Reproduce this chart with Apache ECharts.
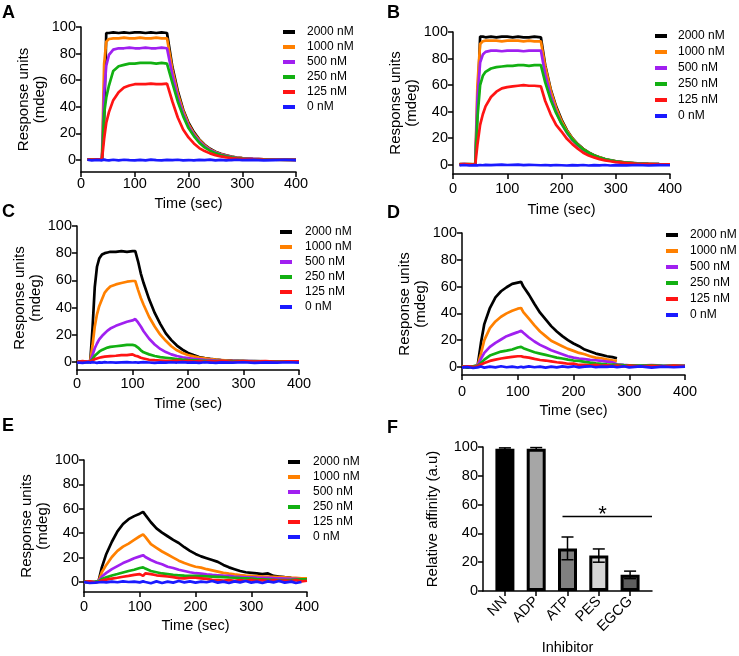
<!DOCTYPE html>
<html><head><meta charset="utf-8">
<script src="https://cdn.jsdelivr.net/npm/echarts@6/dist/echarts.min.js"></script>
<style>html,body{margin:0;padding:0;background:#fff}#c{width:739px;height:656px}</style>
</head><body><div id="c"></div>
<script>
// ---------------- DATA ----------------
const seriesNames = ['2000 nM','1000 nM','500 nM','250 nM','125 nM','0 nM'];
const seriesColors = ['#000000','#ff8000','#a020f0','#12b012','#ff1414','#1a1aff'];
const timeTicks = [0,100,200,300,400];
const responseTicks = [0,20,40,60,80,100];

// Panel A
const tA = [12,20,30,39,43,47,52,60, 70,80,90,100,110,120,130,140,150,160, 170,180,190,200,210,220,230,240,250,260,270,280,290,300, 320,340,360,380,400];
const a2000 = [0.5,0.3,0.5,0.3,30,95.5,95.5,96, 95.5,96,95.5,96,96,95.5,96,95.5,96,95.5, 70,52,38,28,21,15.5,11.5,8.5,6.3,4.7,3.5,2.6,1.9,1.5, 0.9,0.5,0.3,0.2,0.1];
const a1000 = [0.3,0.5,0.3,0.5,72,89,91,91.5, 91.5,92,91.5,91.5,92,91.5,91.5,92,91.5,91.5, 68,50,37,27,20,15,11,8,6,4.4,3.3,2.4,1.8,1.4, 0.8,0.5,0.3,0.2,0.2];
const a500 = [0.5,0.3,0.5,0.3,50,71,79,83, 84,84,84.5,84,84,84.5,84,84,84.5,84, 64,47,35,25.5,19,14,10.3,7.6,5.6,4.2,3.1,2.3,1.7,1.3, 0.8,0.5,0.3,0.2,0.1];
const a250 = [0.3,0.5,0.3,0.5,35,47,56,67, 70.5,71.5,72.5,72.5,73,73,73,72.5,73,72.5, 58,44,33,24,18,13,9.5,7,5.2,3.8,2.8,2,1.5,1.1, 0.6,0.4,0.2,0.1,0.1];
const a125 = [0.5,0.3,0.5,0.3,16,28,36,45, 51,54.5,56,57,57,57,57.5,57,57,57.5, 44,32,23,17,12.5,9,6.7,5,3.7,2.7,2,1.5,1.1,0.8, 0.5,0.3,0.2,0.1,0.1];
const a0 = [0.2,-0.3,0.1,-0.2,0.3,-0.1,-0.3,0.2, -0.2,0.2,-0.1,-0.3,0.1,-0.2,0.3,-0.1,-0.3,0.1, -0.1,0.2,-0.2,0,-0.3,0.1,-0.1,0.3,-0.2,0.1,-0.3,0,0.2,-0.1, 0.1,-0.2,0,0.2,-0.1];

// Panel B
const tB = [12,20,30,41,45,50,55,60, 70,80,90,100,110,120,130,140,150, 162, 170,180,190,200,210,220,230,240,250,260,270,280,290,300, 320,340,360,380,400];
const b2000 = [0.3,0.5,0.3,0.5,40,96.5,96.5,96, 96.5,96,96.5,96.5,96,96.5,96,96,96.5, 96, 75,57,44,34,26,20,15.5,12,9.3,7.2,5.6,4.3,3.4,2.6, 1.6,1,0.6,0.4,0.3];
const b1000 = [0.5,0.3,0.5,0.3,60,91,93,93.5, 93.5,93.5,93,93.5,93.5,93.5,93,93.5,93, 93, 74,56,43,33,25.5,19.7,15.2,11.8,9.1,7,5.5,4.2,3.3,2.5, 1.5,0.9,0.6,0.4,0.3];
const b500 = [0.3,0.5,0.3,0.5,50,77,83,85, 86,86,85.5,86,86,86,85.5,86,86, 86, 68,52,40,31,24,18.5,14.5,11,8.5,6.6,5.1,4,3.1,2.4, 1.4,0.9,0.6,0.4,0.3];
const b250 = [0.5,0.3,0.5,0.3,35,60,67,70, 72.5,73.5,74,74.5,74.5,75,75,74.5,75, 75, 62,49,39,31,24.5,19,15,11.5,9,7,5.4,4.2,3.3,2.6, 1.5,0.9,0.6,0.4,0.3];
const b125 = [0.3,0.5,0.3,0,15,30,38,44, 51,55,57.5,58.5,59,59.5,60,59.5,59.5, 59, 48,38,30,25,19.5,15.5,12,9,7,5.5,4.2,3.3,2.6,2, 1.2,0.7,0.5,0.3,0.2];
const b0 = [-0.5,-0.2,-0.6,-0.3,-0.5,-0.2,-0.4,-0.1, -0.3,-0.1,0,-0.2,-0.1,0,-0.3,-0.1,-0.2, -0.4, -0.2,-0.5,-0.2,-0.4,-0.6,-0.3,-0.5,-0.2,-0.6,-0.3,-0.5,-0.2,-0.6,-0.3, -0.5,-0.2,-0.6,-0.3,-0.4];

// Panel C
const tC = [0,10,20,24,28,32,36,40,45,50,55,60, 70,80,90,100,105,110,115,120, 130,140,150,160,170,180,190,200,210,220,230,240,250,260, 280,300,320,340,360,380,400];
const c2000 = [-0.5,0,0,1,25,55,70,76,79,80,80.5,81, 81,81.5,81,81.5,81.5,74,65,58, 46,36,28,21,16,12,9,6.5,5,3.6,2.8,2.2,1.7,1.3, 0.9,0.6,0.5,0.3,0.3,0.2,0.2];
const c1000 = [0,0.3,0,1,12,26,35,41,46,51,53.5,55.5, 57,58,59,59.5,59.5,53,47,42, 33,26,20,15.5,11.5,8.5,6.5,5,4,3.2,2.6,2,1.6,1.2, 0.8,0.5,0.4,0.3,0.2,0.2,0.1];
const c500 = [0,-0.3,0.3,0.5,5,10,13.5,16.5,19,21,23,24.5, 26.5,28,29.5,30.5,31.5,29,26,22.5, 17,12.8,9.5,7.2,5.5,4.3,3.4,2.8,2.2,1.8,1.4,1.2,1,0.8, 0.6,0.5,0.4,0.3,0.2,0.2,0.2];
const c250 = [0.3,0,-0.3,0.5,2,4.5,6,7.5,8.8,9.7,10.5,11, 11.5,12,12.5,12.5,12,10.5,8.5,7, 5.5,4.3,3.5,3,2.5,2,1.6,1.3,1.1,0.9,0.8,0.6,0.5,0.5, 0.3,0.5,0.2,0.4,0.2,0.3,0.2];
const c125 = [0,0.5,0,0.3,1,2,2.5,3,3.5,3.8,4,4.2, 4.5,5,5,5.5,4.5,4,3,2.5, 1.5,1.2,1,0.8,0.5,1,0.3,0.8,0.2,0.6,0,0.5,0.2,0.7, 0,0.6,0.1,0.5,0,0.4,0.3];
const c0 = [-0.5,-0.8,-0.3,-0.6,-0.2,-0.5,-0.8,-0.4,-0.6,-0.2,-0.5,-0.3, -0.6,-0.4,-0.2,-0.5,-0.3,-0.6,-0.4,-0.2, -0.5,-0.8,-0.4,-0.6,-0.3,-0.5,-0.2,-0.6,-0.4,-0.7,-0.3,-0.5,-0.8,-0.4, -0.6,-0.3,-0.7,-0.4,-0.6,-0.3,-0.5];

// Panel D
const tD = [0,10,20,28,34,40, 50,60,70,80,90,100, 106, 110,120,130,140,150,160,170,180,190,200,210,220,230,240,250,260,270, 278, 290,300, 320,340,360,380,400];
const d2000 = [0.5,-0.5,0.5,1,18,32, 44,52,56.5,59.5,62,63, 63.5, 60,54,47,40.5,35.5,30.5,26.5,23,20,17.5,15.5,13,11.5,10,9,8,7.3, 6.5];
const d1000 = [0,0.5,-0.3,1,10,20, 29,34,37.5,40,42,43.5, 44, 41,36,31,26.5,23,19.5,17.5,15.5,13.5,12,10.5,9.5,8,7,6.5,5.7,5, 4.5];
const d500 = [-0.3,0.5,0,1,6,10.5, 15,18,20.5,23,24.5,26, 27, 25.5,22,19,16.5,14.5,12.5,11,9.5,8,7,6.3,5.8,5.3,5,4.5,4,3.5, 2, 1.5,1.2, 1,1.3,1,0.8,1];
const d250 = [0.3,-0.3,0.5,0.8,3,5.5, 8.5,10,11.5,12.2,13,14.5, 15, 14,12.5,11,10,9,8,7,6.3,5.5,4.8,4.5,3.8,3.2,2.7,2.3,2,1.8, 1.6, 1.3,1.2, 1,1.2,0.8,1,0.8];
const d125 = [0,0.5,0,0.5,1.8,3, 4.5,5.5,6.3,7,7.5,8, 8, 7.5,7,6,5.2,4.8,4.2,3.5,3,2.4,2.5,1.5,1.6,1.2,1.5,0.8,1.2,0.6, 1, 0.5,1, 0.4,0.9,0.5,1,0.6];
const d0 = [-0.5,0,-0.8,-0.3,0.3,-0.5, 0.2,-0.3,0.5,-0.2,0.3,-0.4, 0.2, -0.3,0.4,-0.2,0.3,-0.5,0.2,-0.3,0.4,-0.1,0.5,-0.3,0.2,0.5,-0.2,0.3,0, 0.4, -0.2, 0.5,-0.3, 0.4,-0.5,0.2,-0.2,0.3];

// Panel E
const tE = [0,10,20,26,32,40, 50,60,70,80,90,100, 106, 110,120,130,140,150,160,170,180,190,200,210,220,230,240,250,260,270,280,290,300,310,320,330,340,350,360, 372,380,390,400];
const e2000 = [0.5,-0.5,0,0.5,12,23, 33,41.5,47.5,51.5,54,56, 57.5, 55,49,44,40.5,37.5,34.5,32,28.5,25.5,23,21,19.5,18,16.5,14,12,10.5,9,8,7.5,7,6.5,7,5,4.5,4, 3.5];
const e1000 = [0,0.5,-0.3,0.5,8,14, 20.5,25.5,29,31.5,34.5,37.5, 39, 37,31,28,25,22.5,20,17.5,15.5,14,12.5,11.8,10.5,9.5,8.5,7.5,6.8,6.2,5.7,5.3,5,4.8,4.5,4.4,4.2,4,3.8, 3.5,3.3,3,3];
const e500 = [-0.3,0.3,0,0.5,4.5,7.5, 10.5,13,15.5,17.5,19.5,21, 22, 20.5,18,16,14.5,12.5,11.5,10,9,8,7.2,6.8,6.2,5.8,5.5,5.2,5,4.5,4.2,3.8,3.8,3.6,3.5,3.5,3.2,3,2.8, 2.5,2.5,2.2,2.2];
const e250 = [0.3,-0.5,0.3,0.3,2.5,3.8, 5.3,6.5,7.8,9,10,11.5, 12, 11,9,8,7,6.5,5.8,5.5,5.2,5,5,4.8,4.6,4.4,4.2,4,3.7,3.5,3.2,3,2.7,2.4,2.2,2,1.8,1.6,1.6, 1.8,2,2.2,2.2];
const e125 = [0,0.5,-0.3,0,1.2,2, 2.8,3.5,4.3,5,5.8,6.5, 5, 7,6.5,5.5,5,4.5,4,3.2,3,3.5,3.5,3,2.5,1.8,1.5,1.2,1.5,1,1.5,1,1.8,1,1.5,0.8,1.5,1,1.2, 0.8,1.5,0.5,1];
const e0 = [0,-0.8,-0.5,-0.2,0,-0.3, 0.3,-0.2,0.5,0,0.3,-0.3, 0.5, 0,-1,0.5,-0.8,0.3,-0.5,0.8,-0.3,0.5,-0.5,0.3,-0.2,0.8,-0.5,0.3,-0.8,0.5,-0.3,0.8,-0.5,0.3,-0.8,0.5,-0.3,0.8, -0.5,0.3,-0.8,0];

// Panel F
const fCats = ['NN','ADP','ATP','PES','EGCG'];
const fMeans = [98.8, 98.8, 29.6, 24.6, 11.2];
const fErr = [0.6, 0.8, 7.9, 4.6, 2.6];
const fColors = ['#000000','#a6a6a6','#808080','#d6d6d6','#5e5e5e'];
const sigLine = [[1.84, 51.7],[4.7, 51.7]];
const sigStar = [3.12, 51.7];

// ---------------- LAYOUT ----------------
const FONT = 'Liberation Sans, Arial, sans-serif';
const panels = [
  {letter:'A', lx:2,   ly:4,   grid:{left:81, top:27, width:215, height:145}, yMin:-9, t:tA, v:[a2000,a1000,a500,a250,a125,a0], leg:{left:283, top:24.5, lh:15, pad:7},  lblM:4, nameGap:24},
  {letter:'B', lx:387, ly:4,   grid:{left:453,top:32, width:217, height:142}, yMin:-7, t:tB, v:[b2000,b1000,b500,b250,b125,b0], leg:{left:655, top:28,   lh:16, pad:6},  lblM:7, nameGap:28},
  {letter:'C', lx:2,   ly:203, grid:{left:77, top:226,width:222, height:144}, yMin:-6, t:tC, v:[c2000,c1000,c500,c250,c125,c0], leg:{left:280, top:224.5,lh:15, pad:8},  lblM:6, nameGap:26},
  {letter:'D', lx:387, ly:204, grid:{left:462,top:233,width:223, height:142}, yMin:-6, t:tD, v:[d2000,d1000,d500,d250,d125,d0], leg:{left:666, top:227,  lh:16, pad:7},  lblM:9, nameGap:28},
  {letter:'E', lx:2,   ly:417, grid:{left:84, top:460,width:223, height:132}, yMin:-8.2, t:tE, v:[e2000,e1000,e500,e250,e125,e0], leg:{left:288, top:454.5,lh:15, pad:8}, lblM:7, nameGap:26}
];
const fPanel = {letter:'F', lx:387, ly:419, grid:{left:483, top:447, width:169, height:145}};

const axisLineStyle = {color:'#000', width:1.5};
const txt = {color:'#000', fontFamily:FONT, fontSize:14.5};

const grids = [], xAxes = [], yAxes = [], series = [], legends = [], titles = [];
panels.forEach((p, i) => {
  grids.push(Object.assign({containLabel:false}, p.grid));
  titles.push({text:p.letter, left:p.lx, top:p.ly, padding:0, textStyle:{fontFamily:FONT, fontSize:18, fontWeight:'bold', color:'#000'}});
  xAxes.push({gridIndex:i, type:'value', min:0, max:400, interval:100,
    axisLine:{show:true, onZero:false, lineStyle:axisLineStyle},
    axisTick:{show:true, length:5, lineStyle:axisLineStyle},
    axisLabel:Object.assign({margin:p.lblM}, txt),
    splitLine:{show:false},
    name:'Time (sec)', nameLocation:'middle', nameGap:p.nameGap, nameTextStyle:txt});
  yAxes.push({gridIndex:i, type:'value', min:p.yMin, max:100,
    axisLine:{show:true, onZero:false, lineStyle:axisLineStyle},
    axisTick:{show:true, length:5, lineStyle:axisLineStyle, customValues:responseTicks},
    axisLabel:Object.assign({margin:5, customValues:responseTicks}, txt),
    splitLine:{show:false},
    name:'Response units\n(mdeg)', nameLocation:'middle', nameRotate:90, nameGap:24,
    nameTextStyle:Object.assign({}, txt, {fontSize:15, lineHeight:16})});
  seriesNames.forEach((nm, k) => {
    const vals = p.v[k];
    series.push({type:'line', name:nm, xAxisIndex:i, yAxisIndex:i, color:seriesColors[k],
      data: vals.map((y, j) => [p.t[j], y]),
      symbol:'none', showSymbol:false, smooth:false,
      lineStyle:{width:2.7, color:seriesColors[k]}, itemStyle:{color:seriesColors[k]},
      emphasis:{disabled:true}, animation:false, z:2});
  });
  legends.push({data:seriesNames, orient:'vertical', left:p.leg.left, top:p.leg.top, padding:0,
    itemWidth:12, itemHeight:4, itemGap:0, icon:'rect', selectedMode:false,
    textStyle:{color:'#000', fontFamily:FONT, fontSize:12, lineHeight:p.leg.lh, padding:[0,0,0,p.leg.pad]}});
});

// Panel F
const fi = panels.length;
grids.push(fPanel.grid);
titles.push({text:fPanel.letter, left:fPanel.lx, top:fPanel.ly, padding:0, textStyle:{fontFamily:FONT, fontSize:18, fontWeight:'bold', color:'#000'}});
const catIdx = fCats.map((c, i) => i);
xAxes.push({gridIndex:fi, type:'value', min:-0.7, max:4.7,
  axisLine:{show:true, onZero:false, lineStyle:axisLineStyle},
  axisTick:{show:true, length:5, lineStyle:axisLineStyle, customValues:catIdx},
  axisLabel:Object.assign({margin:8, rotate:45, customValues:catIdx, formatter:v => fCats[Math.round(v)]}, txt),
  splitLine:{show:false},
  name:'Inhibitor', nameLocation:'middle', nameGap:49, nameTextStyle:txt});
yAxes.push({gridIndex:fi, type:'value', min:0, max:100, interval:20,
  axisLine:{show:true, onZero:false, lineStyle:axisLineStyle},
  axisTick:{show:true, length:5, lineStyle:axisLineStyle},
  axisLabel:Object.assign({margin:5}, txt),
  splitLine:{show:false},
  name:'Relative affinity (a.u)', nameLocation:'middle', nameRotate:90, nameGap:43,
  nameTextStyle:Object.assign({}, txt, {fontSize:15})});
series.push({type:'bar', xAxisIndex:fi, yAxisIndex:fi, barWidth:19, animation:false, z:2,
  data: fMeans.map((m, i) => ({value:[i, m], itemStyle:{color:fColors[i], borderColor:'#000', borderWidth:3}}))});
series.push({type:'custom', xAxisIndex:fi, yAxisIndex:fi, z:5, animation:false,
  data: fMeans.map((m, i) => [i, m - fErr[i], m + fErr[i]]),
  renderItem: (params, api) => {
    const x = api.value(0);
    const hi = api.coord([x, api.value(2)]);
    const lo = api.coord([x, api.value(1)]);
    const h = 6;
    const st = {stroke:'#000', lineWidth:1.5};
    return {type:'group', children:[
      {type:'line', shape:{x1:hi[0], y1:hi[1], x2:lo[0], y2:lo[1]}, style:st},
      {type:'line', shape:{x1:hi[0]-h, y1:hi[1], x2:hi[0]+h, y2:hi[1]}, style:st},
      {type:'line', shape:{x1:lo[0]-h, y1:lo[1], x2:lo[0]+h, y2:lo[1]}, style:st}
    ]};
  }});
series.push({type:'line', xAxisIndex:fi, yAxisIndex:fi, data:sigLine, symbol:'none', animation:false,
  lineStyle:{color:'#000', width:1.5}, z:3,
  markPoint:{symbol:'circle', symbolSize:0, silent:true, animation:false,
    data:[{coord:sigStar, value:'*'}],
    label:{show:true, formatter:'*', position:'top', distance:-9, fontFamily:FONT, fontSize:22, color:'#000'}}});

const chart = echarts.init(document.getElementById('c'), null, {renderer:'canvas'});
chart.setOption({
  backgroundColor:'#fff', animation:false,
  title:titles, grid:grids, xAxis:xAxes, yAxis:yAxes, legend:legends, series:series,
  tooltip:{show:false}
});
</script>
</body></html>
